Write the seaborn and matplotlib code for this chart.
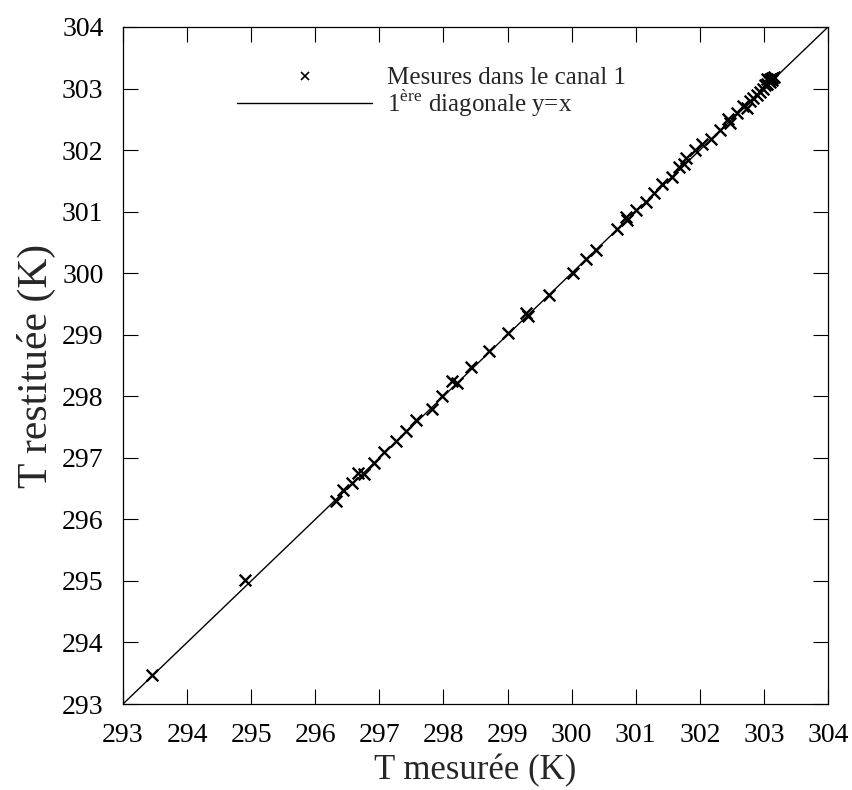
import matplotlib
matplotlib.use("Agg")
import matplotlib.pyplot as plt
from matplotlib.lines import Line2D
import seaborn as sns
import pandas as pd

# ---- data ----
t_mesuree = [293.46, 294.90, 296.32, 296.43, 296.57, 296.67, 296.76, 296.92, 297.08,
             297.26, 297.41, 297.57, 297.82, 297.98, 298.14, 298.21, 298.43, 298.71,
             299.00, 299.29, 299.32, 299.65, 300.02, 300.22, 300.38, 300.70, 300.85,
             300.87, 301.00, 301.16, 301.28, 301.41, 301.56, 301.68, 301.75, 301.78,
             301.92, 302.03, 302.17, 302.31, 302.44, 302.47, 302.58, 302.68, 302.73,
             302.78, 302.83, 302.89, 302.94, 302.98, 303.02, 303.05, 303.08, 303.10,
             303.12, 303.15, 303.05, 303.09, 303.13]
t_restituee = [293.47, 295.02, 296.30, 296.48, 296.59, 296.76, 296.74, 296.92, 297.10,
               297.27, 297.43, 297.61, 297.79, 298.00, 298.25, 298.21, 298.47, 298.74,
               299.02, 299.35, 299.31, 299.65, 300.01, 300.23, 300.37, 300.72, 300.92,
               300.87, 301.02, 301.15, 301.30, 301.45, 301.56, 301.73, 301.78, 301.87,
               302.00, 302.10, 302.18, 302.32, 302.50, 302.44, 302.60, 302.71, 302.68,
               302.79, 302.85, 302.90, 302.95, 303.00, 303.05, 303.08, 303.12, 303.15,
               303.17, 303.18, 303.15, 303.10, 303.14]
diag = [293, 304]
ticks = list(range(293, 305))

label_points = "Mesures dans le canal 1"
label_diag = r"1$^{\mathrm{ère}}$ diagonale y=x"
xlabel = "T mesurée (K)"
ylabel = "T restituée (K)"

sns.set_style("ticks")
plt.rcParams["font.family"] = ["Liberation Serif", "DejaVu Serif"]
plt.rcParams["mathtext.fontset"] = "custom"
plt.rcParams["mathtext.rm"] = "Liberation Serif"

df = pd.DataFrame({"x": t_mesuree, "y": t_restituee})
dfl = pd.DataFrame({"x": diag, "y": diag})

fig = plt.figure(figsize=(8.52, 7.90), dpi=100)
ax = fig.add_axes([123 / 852, 1 - 704 / 790, (828 - 123) / 852, (704 - 27) / 790])

sns.lineplot(data=dfl, x="x", y="y", ax=ax, color="black", linewidth=1.0)
sns.scatterplot(data=df, x="x", y="y", ax=ax, marker="x", color="black",
                s=70, linewidth=1.7, zorder=3)

ax.set_xlim(293, 304)
ax.set_ylim(293, 304)
ax.set_xticks(ticks)
ax.set_yticks(ticks)
ax.tick_params(direction="in", length=11, width=0.8, top=True, right=True,
               labelsize=20, colors="black")
ax.tick_params(axis="x", pad=14)
ax.tick_params(axis="y", pad=14)
for sp in ax.spines.values():
    sp.set_visible(True)
    sp.set_linewidth(0.9)
    sp.set_color("black")

ax.set_xlabel(xlabel, fontsize=25, labelpad=4)
ax.set_ylabel(ylabel, fontsize=30, labelpad=4)

handles = [Line2D([], [], linestyle="none", marker="x", color="black",
                  markersize=6, markeredgewidth=1.2),
           Line2D([], [], color="black", linewidth=1.0)]
ax.legend(handles, [label_points, label_diag], loc="upper left",
          bbox_to_anchor=(237 / 852, 1 - 67 / 790), bbox_transform=fig.transFigure,
          frameon=False, fontsize=18, handlelength=5.4, handletextpad=0.6,
          labelspacing=-0.05, borderpad=0, borderaxespad=0)

fig.savefig("out.png", dpi=100)
